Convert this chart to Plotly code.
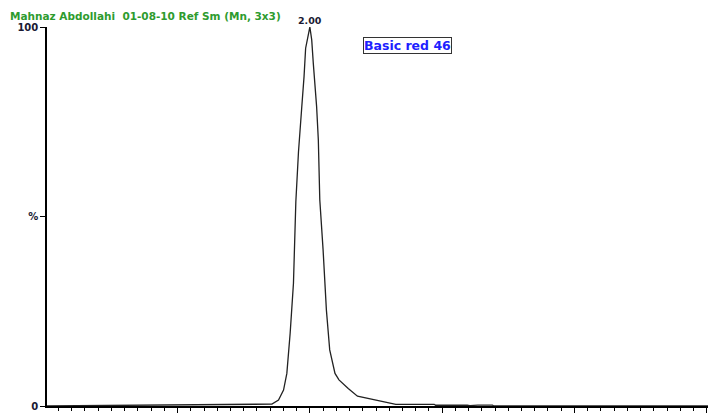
import plotly.graph_objects as go

# Retention time (min) and relative intensity (%)
rt = [0.01, 1.69, 1.713, 1.763, 1.801, 1.826, 1.851, 1.876, 1.894, 1.914, 1.926,
      1.938, 1.956, 1.968, 2.00, 2.014, 2.026, 2.039, 2.051, 2.064, 2.075, 2.10,
      2.125, 2.15, 2.19, 2.22, 2.29, 2.36, 2.46, 2.56, 2.65, 2.94, 2.95, 3.19,
      3.21, 3.27, 3.38, 3.39, 5.07]
intensity = [0.0, 0.3, 0.5, 1.6, 4.2, 8.6, 19.2, 32.4, 53.9, 67.1, 71.9,
             78.5, 86.9, 94.4, 100.0, 96.6, 90.4, 85.1, 79.0, 70.2, 54.4, 41.2,
             25.3, 14.8, 8.6, 6.9, 4.6, 2.6, 1.8, 1.0, 0.45, 0.45, 0.2, 0.2,
             0.1, 0.25, 0.25, 0.0, 0.0]

x_tickvals = [1, 2, 3, 4, 5]
x_ticktext = ["1.00", "2.00", "3.00", "4.00", "5.00"]
y_tickvals = [0, 50, 100]
y_ticktext = ["0", "%", "100"]

title_text = "Mahnaz Abdollahi  01-08-10 Ref Sm (Mn, 3x3)"
peak_label = "2.00"
peak_rt = 2.00
peak_int = 100.0
compound = "Basic red 46"

fig = go.Figure()
fig.add_trace(go.Scatter(x=rt, y=intensity, mode="lines",
                         line=dict(color="#222222", width=1.3),
                         hoverinfo="skip", showlegend=False))

tick_font = dict(family="DejaVu Sans", size=10, color="#1a1a33", weight="bold")

fig.update_layout(
    width=708, height=408,
    margin=dict(l=39, r=0, t=19, b=10),
    paper_bgcolor="white", plot_bgcolor="white",
    xaxis=dict(range=[0.013, 5.07], showgrid=False, zeroline=False,
               showline=True, linecolor="black", linewidth=1.5,
               tickmode="array", tickvals=x_tickvals, ticktext=x_ticktext,
               ticks="outside", ticklen=5, tickcolor="black", tickwidth=1,
               tickfont=tick_font, automargin=False,
               minor=dict(dtick=0.1, tick0=0, ticks="outside", ticklen=3,
                          tickcolor="black", tickwidth=1, showgrid=False)),
    yaxis=dict(range=[0, 100], showgrid=False, zeroline=False,
               showline=True, linecolor="black", linewidth=1.5,
               tickmode="array", tickvals=y_tickvals, ticktext=y_ticktext,
               ticks="outside", ticklen=5, tickcolor="black", tickwidth=1,
               tickfont=tick_font, automargin=False),
    annotations=[
        dict(text=title_text, xref="paper", yref="paper",
             x=-0.058, y=1.0501, xanchor="left", yanchor="top",
             showarrow=False,
             font=dict(family="DejaVu Sans", size=10.5, color="#2e9b2e", weight="bold")),
        dict(text=peak_label, x=peak_rt, y=peak_int, xref="x", yref="y",
             xanchor="center", yanchor="bottom", showarrow=False, yshift=-1,
             font=dict(family="DejaVu Sans", size=9.5, color="#1a1a33", weight="bold")),
        dict(text=compound, x=2.739, y=95.25, xref="x", yref="y",
             xanchor="center", yanchor="middle", showarrow=False,
             bgcolor="white", bordercolor="#333333", borderwidth=1, borderpad=0,
             font=dict(family="DejaVu Sans", size=12.5, color="#1f1fff", weight="bold")),
    ],
)

fig.write_html("out.html")
